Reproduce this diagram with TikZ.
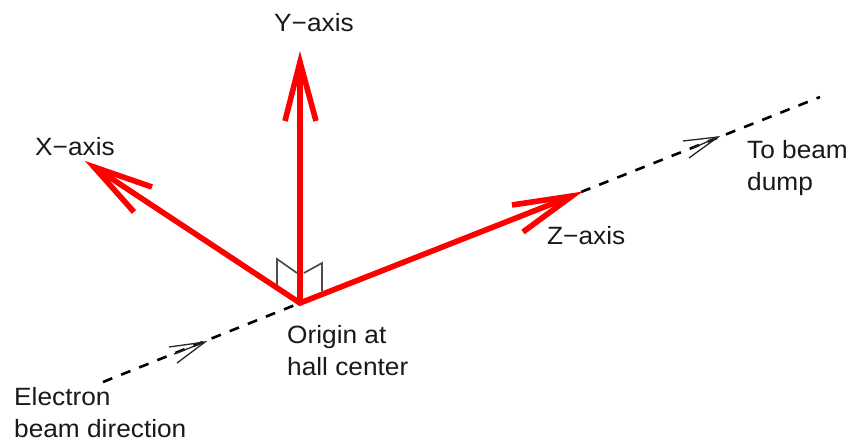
\documentclass[tikz,border=0pt]{standalone}
\usepackage{fontspec}
\setmainfont[FakeStretch=1.05]{Liberation Sans}
\definecolor{axisred}{RGB}{255,0,0}
\tikzset{
  axisline/.style={draw=axisred,line width=5.6pt,line cap=round,line join=round},
  axishead/.style={draw=axisred,line width=5.6pt,line cap=butt,line join=miter,miter limit=20},
  beamline/.style={draw=black,line width=2.6pt,dash pattern=on 10pt off 9.5pt},
  thinarrow/.style={draw=black!85,line width=1.3pt},
  anglemark/.style={draw=black!70,line width=1.7pt,line join=miter},
  lab/.style={font=\fontsize{25}{31.5}\selectfont,align=left,anchor=west,inner sep=0pt,text=black!90},
}
\begin{document}
\begin{tikzpicture}[x=1pt,y=-1pt]
\useasboundingbox (0,0) rectangle (853,441);
\coordinate (O) at (300,303);
\coordinate (Y) at (300,62);
\coordinate (X) at (94,167);
\coordinate (Z) at (572,196);
\coordinate (ZT) at (581,192);
\coordinate (S) at (103,382);
\coordinate (E) at (820,97);
\coordinate (A1) at (205,342);
\coordinate (A2) at (718,137);
% beam
\draw[beamline] (S) -- (O);
\draw[beamline] (ZT) -- (E);
% small arrows on beam
\draw[thinarrow] (169,347) -- (A1) -- (177,363);
\draw[thinarrow] (174,354) -- (A1);
\draw[thinarrow] (683,141) -- (A2) -- (689,158);
\draw[thinarrow] (693,148) -- (A2);
% right angle marks
\draw[anglemark] (277,287) -- (277,259) -- (297,273);
\draw[anglemark] (304,273) -- (322,263) -- (322,291);
% axes
\draw[axisline] (O) -- (Y);
\draw[axishead] (285,121) -- (Y) -- (316,121);
\draw[axisline] (O) -- (X);
\draw[axishead] (152,187) -- (X) -- (134,212);
\draw[axisline] (O) -- (Z);
\draw[axishead] (512,205) -- (Z) -- (523,232);
% labels
\node[lab] (ly) at (274,23) {Y−axis};
\node[lab] (lx) at (35,147) {X−axis};
\node[lab] (lz) at (547,236) {Z−axis};
\node[lab] (ld) at (747,168) {To beam\\dump};
\node[lab] (lo) at (287,350.5) {Origin at\\hall center};
\node[lab] (le) at (14,412.5) {Electron\\beam direction};
\end{tikzpicture}
\end{document}
